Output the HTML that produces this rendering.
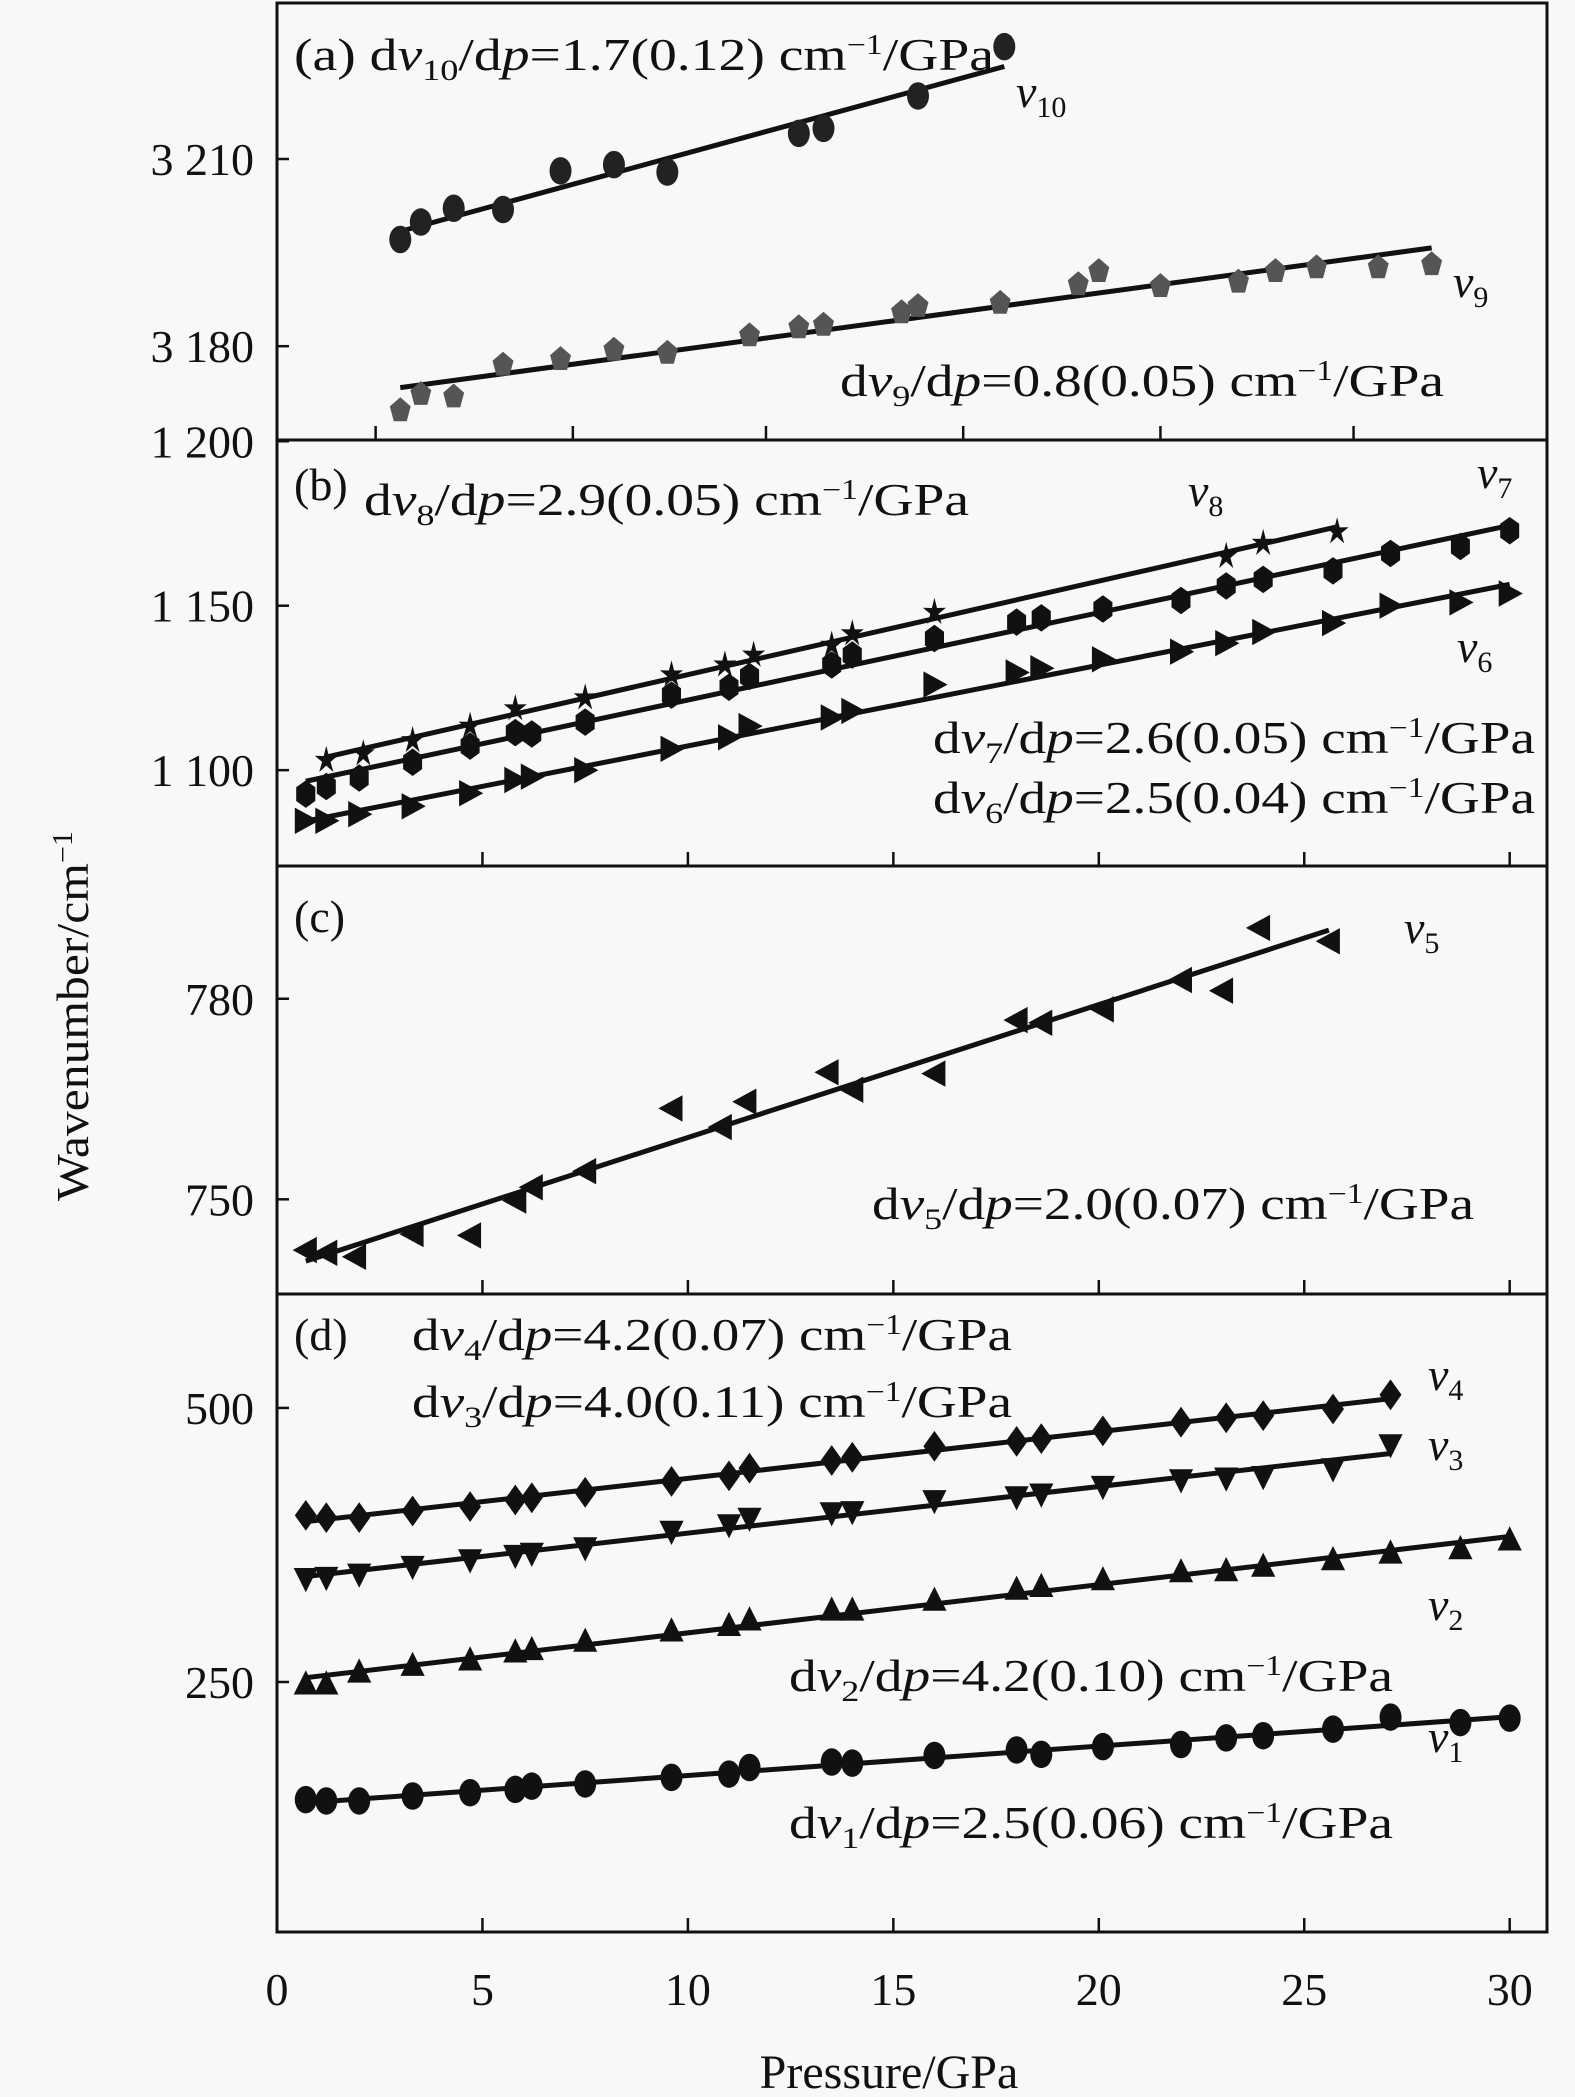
<!DOCTYPE html>
<html><head><meta charset="utf-8"><style>
html,body{margin:0;padding:0;background:#f8f8f8;}
svg{display:block;font-family:"Liberation Serif",serif;}
</style></head><body>
<svg id="chart" width="1575" height="2097" viewBox="0 0 1575 2097" xmlns="http://www.w3.org/2000/svg">
<rect x="0" y="0" width="1575" height="2097" fill="#f8f8f8"/>
<g id="frames"></g><g id="ticks"></g><g id="lines"></g><g id="marks"></g>
<g id="texts" font-size="46" fill="#111">
<text transform="translate(88,1016) rotate(-90)" text-anchor="middle" font-size="46" textLength="370" lengthAdjust="spacingAndGlyphs">Wavenumber/cm<tspan dy="-16" font-size="28">−1</tspan></text>
<text x="889" y="2088" text-anchor="middle" font-size="48">Pressure/GPa</text>
<text x="294" y="70" textLength="700" lengthAdjust="spacingAndGlyphs">(a) d<tspan font-style="italic">v</tspan><tspan font-size="30" dy="10">10</tspan><tspan dy="-10">/d</tspan><tspan font-style="italic">p</tspan>=1.7(0.12) cm<tspan font-size="28" dy="-16">−1</tspan><tspan dy="16">/GPa</tspan></text>
<text x="1016" y="107" font-style="italic">v<tspan font-size="30" dy="10" font-style="normal">10</tspan></text>
<text x="1453" y="297" font-style="italic">v<tspan font-size="30" dy="10" font-style="normal">9</tspan></text>
<text x="840" y="396" textLength="604" lengthAdjust="spacingAndGlyphs">d<tspan font-style="italic">v</tspan><tspan font-size="30" dy="10">9</tspan><tspan dy="-10">/d</tspan><tspan font-style="italic">p</tspan>=0.8(0.05) cm<tspan font-size="28" dy="-16">−1</tspan><tspan dy="16">/GPa</tspan></text>
<text x="294" y="500">(b)</text>
<text x="364" y="515" textLength="605" lengthAdjust="spacingAndGlyphs">d<tspan font-style="italic">v</tspan><tspan font-size="30" dy="10">8</tspan><tspan dy="-10">/d</tspan><tspan font-style="italic">p</tspan>=2.9(0.05) cm<tspan font-size="28" dy="-16">−1</tspan><tspan dy="16">/GPa</tspan></text>
<text x="1188" y="506" font-style="italic">v<tspan font-size="30" dy="10" font-style="normal">8</tspan></text>
<text x="1477" y="488" font-style="italic">v<tspan font-size="30" dy="10" font-style="normal">7</tspan></text>
<text x="1457" y="662" font-style="italic">v<tspan font-size="30" dy="10" font-style="normal">6</tspan></text>
<text x="933" y="753" textLength="602" lengthAdjust="spacingAndGlyphs">d<tspan font-style="italic">v</tspan><tspan font-size="30" dy="10">7</tspan><tspan dy="-10">/d</tspan><tspan font-style="italic">p</tspan>=2.6(0.05) cm<tspan font-size="28" dy="-16">−1</tspan><tspan dy="16">/GPa</tspan></text>
<text x="933" y="813" textLength="602" lengthAdjust="spacingAndGlyphs">d<tspan font-style="italic">v</tspan><tspan font-size="30" dy="10">6</tspan><tspan dy="-10">/d</tspan><tspan font-style="italic">p</tspan>=2.5(0.04) cm<tspan font-size="28" dy="-16">−1</tspan><tspan dy="16">/GPa</tspan></text>
<text x="294" y="932">(c)</text>
<text x="1404" y="943" font-style="italic">v<tspan font-size="30" dy="10" font-style="normal">5</tspan></text>
<text x="872" y="1219" textLength="602" lengthAdjust="spacingAndGlyphs">d<tspan font-style="italic">v</tspan><tspan font-size="30" dy="10">5</tspan><tspan dy="-10">/d</tspan><tspan font-style="italic">p</tspan>=2.0(0.07) cm<tspan font-size="28" dy="-16">−1</tspan><tspan dy="16">/GPa</tspan></text>
<text x="294" y="1350">(d)</text>
<text x="412" y="1350" textLength="600" lengthAdjust="spacingAndGlyphs">d<tspan font-style="italic">v</tspan><tspan font-size="30" dy="10">4</tspan><tspan dy="-10">/d</tspan><tspan font-style="italic">p</tspan>=4.2(0.07) cm<tspan font-size="28" dy="-16">−1</tspan><tspan dy="16">/GPa</tspan></text>
<text x="412" y="1417" textLength="600" lengthAdjust="spacingAndGlyphs">d<tspan font-style="italic">v</tspan><tspan font-size="30" dy="10">3</tspan><tspan dy="-10">/d</tspan><tspan font-style="italic">p</tspan>=4.0(0.11) cm<tspan font-size="28" dy="-16">−1</tspan><tspan dy="16">/GPa</tspan></text>
<text x="1428" y="1390" font-style="italic">v<tspan font-size="30" dy="10" font-style="normal">4</tspan></text>
<text x="1428" y="1460" font-style="italic">v<tspan font-size="30" dy="10" font-style="normal">3</tspan></text>
<text x="1428" y="1620" font-style="italic">v<tspan font-size="30" dy="10" font-style="normal">2</tspan></text>
<text x="1428" y="1752" font-style="italic">v<tspan font-size="30" dy="10" font-style="normal">1</tspan></text>
<text x="789" y="1691" textLength="604" lengthAdjust="spacingAndGlyphs">d<tspan font-style="italic">v</tspan><tspan font-size="30" dy="10">2</tspan><tspan dy="-10">/d</tspan><tspan font-style="italic">p</tspan>=4.2(0.10) cm<tspan font-size="28" dy="-16">−1</tspan><tspan dy="16">/GPa</tspan></text>
<text x="789" y="1838" textLength="604" lengthAdjust="spacingAndGlyphs">d<tspan font-style="italic">v</tspan><tspan font-size="30" dy="10">1</tspan><tspan dy="-10">/d</tspan><tspan font-style="italic">p</tspan>=2.5(0.06) cm<tspan font-size="28" dy="-16">−1</tspan><tspan dy="16">/GPa</tspan></text>
</g>
</svg>
<script>
const xTicks=[0,5,10,15,20,25,30];
const aTicks=[2.4,7.2,11.9,16.7,21.5,26.2];
const aYTicks=[3210,3180];
const bYTicks=[1200,1150,1100];
const cYTicks=[780,750];
const dYTicks=[500,250];
const yTickLabels={3210:"3 210",3180:"3 180",1200:"1 200",1150:"1 150",1100:"1 100",780:"780",750:"750",500:"500",250:"250"};

const pAll=[0.7,1.2,2.0,3.3,4.7,5.8,6.2,7.5,9.6,11.0,11.5,13.5,14.0,16.0,18.0,18.6,20.1,22.0,23.1,24.0,25.7,27.1,28.8,30.0];
const v1=[142.7,141.5,141.5,146,149,152,155,157,163,166,172,177,176,183,188,184,191,193,199,201,207,218,213,217];
const v2=[247.6,247.6,258.5,264.6,269.5,276.8,279,286.6,296,301,306,315,315,324,334,336.6,342.7,350,351,355,361,367,371,379];
const p34=[0.7,1.2,2.0,3.3,4.7,5.8,6.2,7.5,9.6,11.0,11.5,13.5,14.0,16.0,18.0,18.6,20.1,22.0,23.1,24.0,25.7,27.1];
const v3=[345,346,349,356,362,366,368,373,388,394,400,405,406,416,419.5,422,429,435,436.6,438,445,467];
const v4=[402,400,400,406,410,416,418,423,433,438,445,452,455,465,469.5,472,479,487,491,493,499,512];
const p5=[0.7,1.2,1.9,3.3,4.7,5.8,6.2,7.5,9.6,10.8,11.4,13.4,14.0,16.0,18.0,18.6,20.1,22.0,23.0,23.9,25.6];
const v5=[742.4,742,741.4,744.8,744.6,749.8,751.8,754.2,763.6,760.8,764.6,769,766.4,768.8,776.8,776.4,778.4,782.8,781.2,790.6,788.6];
const v6=[1084.6,1084.6,1086.6,1089,1093,1097,1098,1100,1106.5,1110,1113.4,1116,1118,1126,1129.7,1131,1133.7,1136,1138.6,1142,1144.7,1150,1151,1153.7];
const v7=[1092.7,1095,1097.6,1102.4,1107.3,1111.4,1111,1114.6,1122.8,1125.2,1128.5,1132,1135,1140,1145,1146.3,1149,1151.6,1156,1158,1160.6,1165.9,1168,1172.8];
const p8=[1.2,2.1,3.3,4.7,5.8,7.5,9.6,10.9,11.6,13.5,14.0,16.0,23.1,24.0,25.8];
const v8=[1103,1105,1109,1113.4,1118.7,1122,1129,1132,1135,1138,1141.5,1148,1165,1169,1172.5];
const p9=[3.0,3.5,4.3,5.5,6.9,8.2,9.5,11.5,12.7,13.3,15.2,15.6,17.6,19.5,20.0,21.5,23.4,24.3,25.3,26.8,28.1];
const v9=[3169.7,3172.3,3171.9,3177,3177.9,3179.4,3178.9,3181.7,3183,3183.4,3185.4,3186.4,3186.9,3189.9,3192,3189.6,3190.3,3192,3192.6,3192.6,3193.1];
const p10=[3.0,3.5,4.3,5.5,6.9,8.2,9.5,12.7,13.3,15.6,17.7];
const v10=[3197.1,3199.9,3202.1,3201.9,3208.1,3209.1,3207.9,3214.1,3214.9,3220.1,3228];

const NS="http://www.w3.org/2000/svg";
const L=277,R=1547;
const X=p=>277+p*41.09;
const Ya=v=>159+(3210-v)*6.24;
const Yb=v=>605.7+(1150-v)*3.289;
const Yc=v=>1199.3+(750-v)*6.685;
const Yd=v=>1682+(250-v)*1.0963;
function mk(tag,attrs,parent){const e=document.createElementNS(NS,tag);for(const k in attrs)e.setAttribute(k,attrs[k]);document.getElementById(parent).appendChild(e);return e;}

const panels=[["a",3,440],["b",440,866],["c",866,1294],["d",1294,1932]];
panels.forEach(([n,t,b])=>{
  const r=mk("rect",{x:L,y:t,width:R-L,height:b-t,fill:"none",stroke:"#111","stroke-width":3},"frames");
  
  
  const tv=n==="a"?aTicks:xTicks;
  tv.forEach(p=>{ if(p===0)return;
    const l=mk("line",{x1:X(p),x2:X(p),y1:b,y2:b-14,stroke:"#111","stroke-width":2.5},"ticks");
    
    
  });
});
xTicks.forEach(p=>{
  const t=mk("text",{x:X(p),y:2005,"text-anchor":"middle","font-size":46,fill:"#111"},"ticks");
  t.textContent=p;
  
  
});
[[aYTicks,Ya],[bYTicks,Yb],[cYTicks,Yc],[dYTicks,Yd]].forEach(([arr,f])=>{
  arr.forEach(v=>{
    const y=f(v);
    const l=mk("line",{x1:L,x2:L+12,y1:y,y2:y,stroke:"#111","stroke-width":2.5},"ticks");
    
    
    const t=mk("text",{x:254,y:y+16,"text-anchor":"end","font-size":46,fill:"#111"},"ticks");
    t.textContent=yTickLabels[v];
    
    
  });
});

function fit(ps,vs){const n=ps.length;let sx=0,sy=0,sxx=0,sxy=0;for(let i=0;i<n;i++){sx+=ps[i];sy+=vs[i];sxx+=ps[i]*ps[i];sxy+=ps[i]*vs[i];}const m=(n*sxy-sx*sy)/(n*sxx-sx*sx);return [m,(sy-m*sx)/n];}
function shape(kind,cx,cy,fill){
  const s=11;let e;
  if(kind==="circle"){e=mk("ellipse",{cx,cy,rx:s,ry:s*1.25,fill},"marks");}
  else{let pts;
    if(kind==="up")pts=[[0,-s*1.3],[s*1.1,s*0.9],[-s*1.1,s*0.9]];
    else if(kind==="down")pts=[[0,s*1.3],[s*1.1,-s*0.9],[-s*1.1,-s*0.9]];
    else if(kind==="right")pts=[[s*1.2,0],[-s,-s*1.2],[-s,s*1.2]];
    else if(kind==="left")pts=[[-s*1.2,0],[s,-s*1.2],[s,s*1.2]];
    else if(kind==="diamond")pts=[[0,-s*1.4],[s,0],[0,s*1.4],[-s,0]];
    else if(kind==="hex"){pts=[];for(let i=0;i<6;i++){const a=Math.PI/6+i*Math.PI/3;pts.push([s*Math.cos(a),s*1.25*Math.sin(a)]);}}
    else if(kind==="pent"){pts=[];for(let i=0;i<5;i++){const a=-Math.PI/2+i*2*Math.PI/5;pts.push([s*Math.cos(a),s*1.2*Math.sin(a)]);}}
    else if(kind==="star"){pts=[];for(let i=0;i<10;i++){const a=-Math.PI/2+i*Math.PI/5;const r=i%2?s*0.4:s*1.1;pts.push([r*Math.cos(a),r*1.2*Math.sin(a)]);}}
    e=mk("polygon",{points:pts.map(q=>(cx+q[0]).toFixed(1)+","+(cy+q[1]).toFixed(1)).join(" "),fill},"marks");
  }
  return e;
}
const series=[
 ["v1",pAll,v1,Yd,"circle","#111"],["v2",pAll,v2,Yd,"up","#111"],["v3",p34,v3,Yd,"down","#111"],["v4",p34,v4,Yd,"diamond","#111"],
 ["v5",p5,v5,Yc,"left","#111"],["v6",pAll,v6,Yb,"right","#111"],["v7",pAll,v7,Yb,"hex","#111"],["v8",p8,v8,Yb,"star","#111"],
 ["v9",p9,v9,Ya,"pent","#555"],["v10",p10,v10,Ya,"circle","#222"]];
series.forEach(([name,ps,vs,Y,kind,col])=>{
  const [m,c]=fit(ps,vs);const p0=ps[0],p1=ps[ps.length-1];
  const ln=mk("line",{x1:X(p0),y1:Y(m*p0+c),x2:X(p1),y2:Y(m*p1+c),stroke:"#111","stroke-width":5},"lines");
  
  
  ps.forEach((p,i)=>{
    const e=shape(kind,X(p),Y(vs[i]),col);
    
    
  });
});
</script>
</body></html>
